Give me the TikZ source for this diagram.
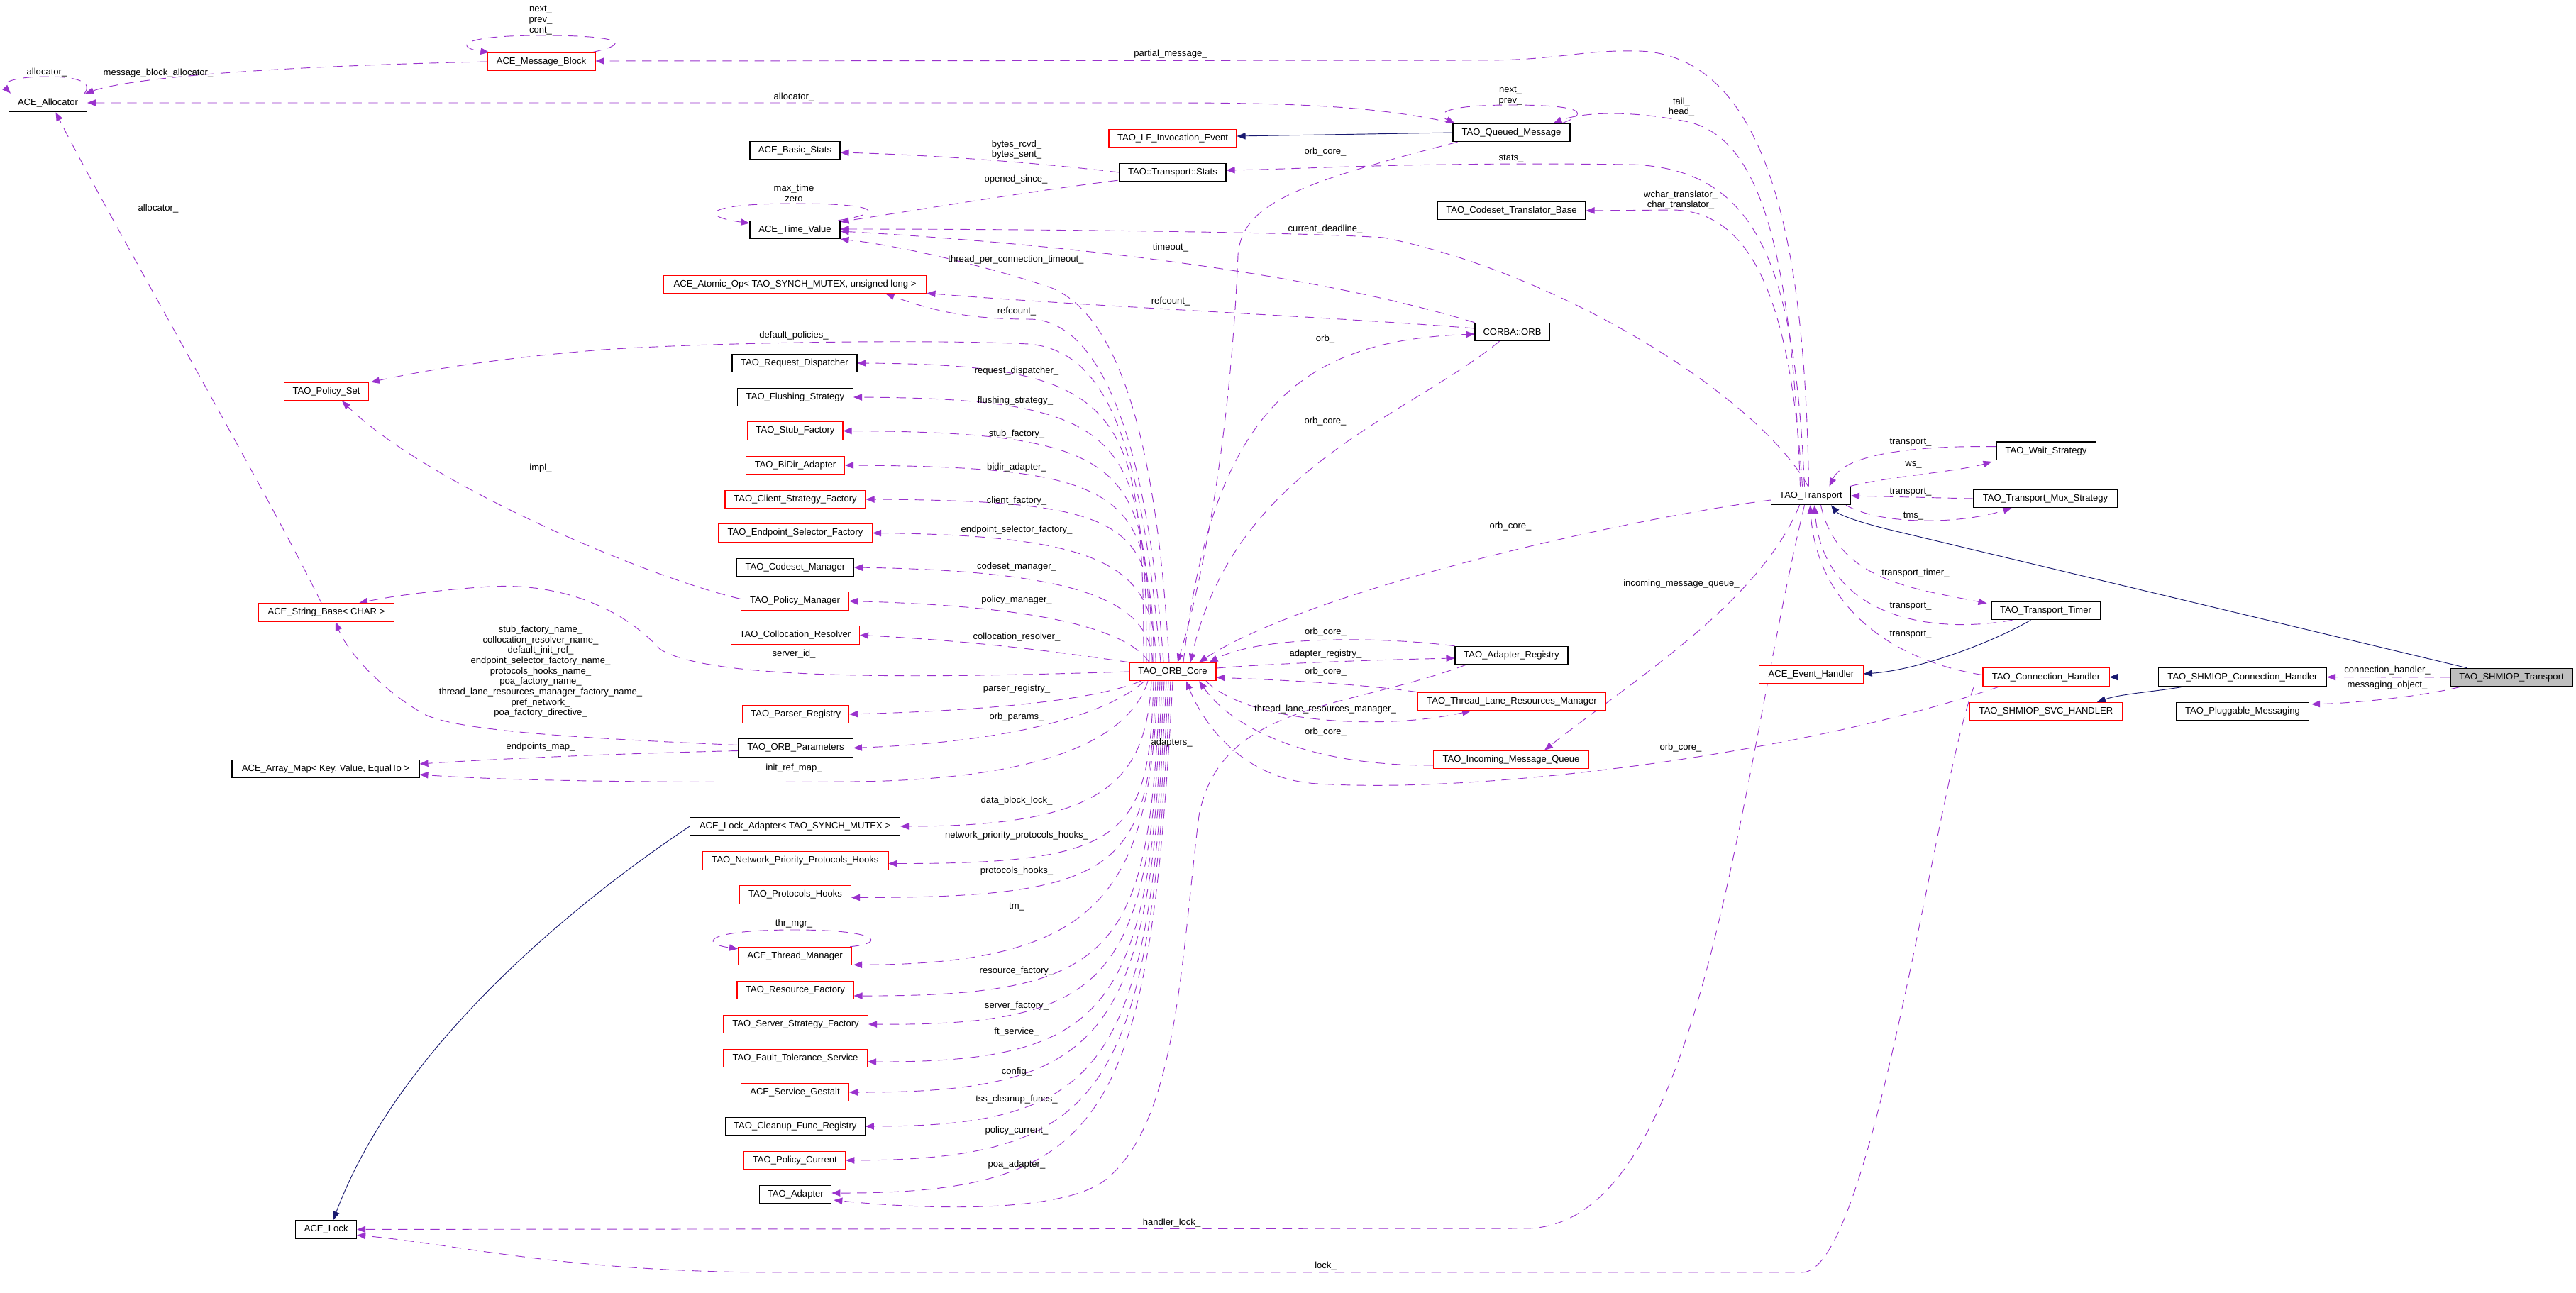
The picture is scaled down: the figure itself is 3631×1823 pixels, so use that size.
\documentclass[tikz,border=0pt]{standalone}
\usepackage{fontspec}
\setmainfont{Liberation Sans}
\usetikzlibrary{arrows.meta,calc}
\definecolor{usecol}{RGB}{154,50,205}
\definecolor{inhcol}{RGB}{25,25,112}
\definecolor{grayfill}{RGB}{191,191,191}
\pgfdeclarelayer{bg}
\pgfsetlayers{bg,main}
\begin{document}
\begin{tikzpicture}[x=0.75pt,y=-0.75pt,
  cls/.style={draw=black, line width=0.8pt, rectangle, inner sep=0pt, minimum height=19.1pt, fill=white, font=\fontsize{9.8}{11}\selectfont},
  rcls/.style={cls, draw=red},
  gcls/.style={cls, fill=grayfill},
  dep/.style={draw=usecol, line width=0.7pt, dash pattern=on 10pt off 7pt, -{Triangle[length=9pt,width=7pt]}},
  inh/.style={draw=inhcol, line width=0.7pt, -{Triangle[length=9pt,width=7pt]}},
  lbl/.style={font=\fontsize{9.8}{11}\selectfont, align=center, inner sep=0pt}]
\useasboundingbox (0,0) rectangle (3631,1823);

% ---------- classes ----------
\node[cls, minimum width=82.5pt] (alloc) at (67.5,145) {ACE\_Allocator};
\node[rcls, minimum width=114pt] (msgblk) at (763,87) {ACE\_Message\_Block};
\node[rcls, minimum width=89.25pt] (polset) at (460,552) {TAO\_Policy\_Set};
\node[rcls, minimum width=143.25pt] (strbase) at (460,863.5) {ACE\_String\_Base< CHAR >};
\node[cls, minimum width=198pt] (arrmap) at (459,1084) {ACE\_Array\_Map< Key, Value, EqualTo >};
\node[cls, minimum width=64.5pt] (acelock) at (459.7,1733.4) {ACE\_Lock};
\node[rcls, minimum width=135pt] (lfevent) at (1653,195) {TAO\_LF\_Invocation\_Event};
\node[cls, minimum width=95.25pt] (basicstats) at (1120.5,212) {ACE\_Basic\_Stats};
\node[cls, minimum width=112.5pt] (tstats) at (1653,243) {TAO::Transport::Stats};
\node[cls, minimum width=95.25pt] (timeval) at (1120.5,324) {ACE\_Time\_Value};
\node[rcls, minimum width=278.25pt] (atomic) at (1120.5,401) {ACE\_Atomic\_Op< TAO\_SYNCH\_MUTEX, unsigned long >};
\node[cls, minimum width=132pt] (reqdisp) at (1120,512) {TAO\_Request\_Dispatcher};
\node[cls, minimum width=122.25pt] (flush) at (1121,560) {TAO\_Flushing\_Strategy};
\node[rcls, minimum width=100.5pt] (stubf) at (1121,607.5) {TAO\_Stub\_Factory};
\node[rcls, minimum width=104.25pt] (bidir) at (1121,656) {TAO\_BiDir\_Adapter};
\node[rcls, minimum width=148.5pt] (clientf) at (1121,704) {TAO\_Client\_Strategy\_Factory};
\node[rcls, minimum width=162.75pt] (endpf) at (1121,751.5) {TAO\_Endpoint\_Selector\_Factory};
\node[cls, minimum width=123.75pt] (codesetm) at (1121,800) {TAO\_Codeset\_Manager};
\node[rcls, minimum width=114pt] (polmgr) at (1120.5,847.5) {TAO\_Policy\_Manager};
\node[rcls, minimum width=135.75pt] (colres) at (1121,895.5) {TAO\_Collocation\_Resolver};
\node[rcls, minimum width=91.5pt] (core) at (1653,947) {TAO\_ORB\_Core};
\node[rcls, minimum width=112.5pt] (parser) at (1121.7,1007) {TAO\_Parser\_Registry};
\node[cls, minimum width=121.5pt] (orbparams) at (1121.5,1054.5) {TAO\_ORB\_Parameters};
\node[cls, minimum width=222pt] (lockadapter) at (1120.6,1165) {ACE\_Lock\_Adapter< TAO\_SYNCH\_MUTEX >};
\node[rcls, minimum width=196.5pt] (npph) at (1121,1213.5) {TAO\_Network\_Priority\_Protocols\_Hooks};
\node[rcls, minimum width=117.75pt] (prothooks) at (1121,1261.4) {TAO\_Protocols\_Hooks};
\node[rcls, minimum width=120pt] (thrmgr) at (1120.5,1348) {ACE\_Thread\_Manager};
\node[rcls, minimum width=123pt] (resf) at (1121,1396) {TAO\_Resource\_Factory};
\node[rcls, minimum width=153pt] (serverf) at (1121.5,1444) {TAO\_Server\_Strategy\_Factory};
\node[rcls, minimum width=152.25pt] (ftserv) at (1121,1492) {TAO\_Fault\_Tolerance\_Service};
\node[rcls, minimum width=114pt] (gestalt) at (1120.5,1540) {ACE\_Service\_Gestalt};
\node[cls, minimum width=147.75pt] (cleanup) at (1120.8,1588) {TAO\_Cleanup\_Func\_Registry};
\node[rcls, minimum width=107.25pt] (polcur) at (1120.3,1636) {TAO\_Policy\_Current};
\node[cls, minimum width=75.75pt] (adapter) at (1121.3,1684) {TAO\_Adapter};
\node[cls, minimum width=123.75pt] (qmsg) at (2130.5,187) {TAO\_Queued\_Message};
\node[cls, minimum width=156.75pt] (cstb) at (2130.5,297) {TAO\_Codeset\_Translator\_Base};
\node[cls, minimum width=78.75pt] (corbaorb) at (2131.5,468) {CORBA::ORB};
\node[cls, minimum width=119.25pt] (adreg) at (2130.5,924) {TAO\_Adapter\_Registry};
\node[rcls, minimum width=198.75pt] (tlrm) at (2131,989) {TAO\_Thread\_Lane\_Resources\_Manager};
\node[rcls, minimum width=164.25pt] (imq) at (2130,1071) {TAO\_Incoming\_Message\_Queue};
\node[cls, minimum width=84pt] (transport) at (2552.5,699) {TAO\_Transport};
\node[rcls, minimum width=110pt] (evh) at (2553,951) {ACE\_Event\_Handler};
\node[cls, minimum width=105pt] (waits) at (2884,635.7) {TAO\_Wait\_Strategy};
\node[cls, minimum width=151.5pt] (mux) at (2883,703) {TAO\_Transport\_Mux\_Strategy};
\node[cls, minimum width=114.75pt] (ttimer) at (2883.5,861) {TAO\_Transport\_Timer};
\node[rcls, minimum width=133.5pt] (connh) at (2884,954.6) {TAO\_Connection\_Handler};
\node[rcls, minimum width=161.25pt] (svch) at (2884,1003) {TAO\_SHMIOP\_SVC\_HANDLER};
\node[cls, minimum width=177.75pt] (shconnh) at (3161,954.6) {TAO\_SHMIOP\_Connection\_Handler};
\node[cls, minimum width=140.25pt] (pmsg) at (3161,1003) {TAO\_Pluggable\_Messaging};
\node[gcls, minimum width=129pt] (shtrans) at (3540,955) {TAO\_SHMIOP\_Transport};

% ---------- labels ----------
\node[lbl] (l01) at (762,28.5) {next\_\\prev\_\\cont\_};
\node[lbl] (l02) at (66,102) {allocator\_};
\node[lbl] (l03) at (223,103) {message\_block\_allocator\_};
\node[lbl] (l04) at (1119,137) {allocator\_};
\node[lbl] (l05) at (1650,76) {partial\_message\_};
\node[lbl] (l06) at (223,294.5) {allocator\_};
\node[lbl] (l07) at (2129,135.2) {next\_\\prev\_};
\node[lbl] (l08) at (2370,151) {tail\_\\head\_};
\node[lbl] (l09) at (1868,213.6) {orb\_core\_};
\node[lbl] (l10) at (2130,223.7) {stats\_};
\node[lbl] (l11) at (1433,211) {bytes\_rcvd\_\\bytes\_sent\_};
\node[lbl] (l12) at (1432,253.6) {opened\_since\_};
\node[lbl] (l13) at (1119,272.4) {max\_time\\zero};
\node[lbl] (l14) at (2369,282) {wchar\_translator\_\\char\_translator\_};
\node[lbl] (l15) at (1868,323) {current\_deadline\_};
\node[lbl] (l16) at (1650,349) {timeout\_};
\node[lbl] (l17) at (1432,365.7) {thread\_per\_connection\_timeout\_};
\node[lbl] (l18) at (1650,425) {refcount\_};
\node[lbl] (l19) at (1433,439) {refcount\_};
\node[lbl] (l20) at (1868,478.5) {orb\_};
\node[lbl] (l21) at (1119,473) {default\_policies\_};
\node[lbl] (l22) at (1433,523) {request\_dispatcher\_};
\node[lbl] (l23) at (1431,565) {flushing\_strategy\_};
\node[lbl] (l24) at (1868,594) {orb\_core\_};
\node[lbl] (l25) at (1433,611.7) {stub\_factory\_};
\node[lbl] (l26) at (1433,659.5) {bidir\_adapter\_};
\node[lbl] (l27) at (762,660) {impl\_};
\node[lbl] (l28) at (1433,706) {client\_factory\_};
\node[lbl] (l29) at (1433,746.7) {endpoint\_selector\_factory\_};
\node[lbl] (l30) at (2129,742) {orb\_core\_};
\node[lbl] (l31) at (1433,798.8) {codeset\_manager\_};
\node[lbl] (l32) at (2370,823) {incoming\_message\_queue\_};
\node[lbl] (l33) at (1433,846.6) {policy\_manager\_};
\node[lbl] (l34) at (1868.5,890.6) {orb\_core\_};
\node[lbl] (l35) at (1433,897.6) {collocation\_resolver\_};
\node[lbl] (l36) at (1119,921.7) {server\_id\_};
\node[lbl] (l37) at (1868.5,922) {adapter\_registry\_};
\node[lbl] (l38) at (1868.5,946.6) {orb\_core\_};
\node[lbl] (l39) at (762,946.8) {stub\_factory\_name\_\\collocation\_resolver\_name\_\\default\_init\_ref\_\\endpoint\_selector\_factory\_name\_\\protocols\_hooks\_name\_\\poa\_factory\_name\_\\thread\_lane\_resources\_manager\_factory\_name\_\\pref\_network\_\\poa\_factory\_directive\_};
\node[lbl] (l40) at (1433,970.7) {parser\_registry\_};
\node[lbl] (l41) at (1868,1000) {thread\_lane\_resources\_manager\_};
\node[lbl] (l42) at (1433,1010.8) {orb\_params\_};
\node[lbl] (l43) at (1868.5,1032) {orb\_core\_};
\node[lbl] (l44) at (1651.6,1047) {adapters\_};
\node[lbl] (l45) at (762,1053) {endpoints\_map\_};
\node[lbl] (l46) at (2369,1053.6) {orb\_core\_};
\node[lbl] (l47) at (1119,1083.5) {init\_ref\_map\_};
\node[lbl] (l48) at (1433,1129) {data\_block\_lock\_};
\node[lbl] (l49) at (1433,1178.5) {network\_priority\_protocols\_hooks\_};
\node[lbl] (l50) at (1433,1227.8) {protocols\_hooks\_};
\node[lbl] (l51) at (1433,1278.7) {tm\_};
\node[lbl] (l52) at (1119,1302.5) {thr\_mgr\_};
\node[lbl] (l53) at (1433,1369.6) {resource\_factory\_};
\node[lbl] (l54) at (1433,1418.5) {server\_factory\_};
\node[lbl] (l55) at (1433,1455.5) {ft\_service\_};
\node[lbl] (l56) at (1433,1510.7) {config\_};
\node[lbl] (l57) at (1433,1550.4) {tss\_cleanup\_funcs\_};
\node[lbl] (l58) at (1433,1594.5) {policy\_current\_};
\node[lbl] (l59) at (1433,1641.8) {poa\_adapter\_};
\node[lbl] (l60) at (1651.6,1723.6) {handler\_lock\_};
\node[lbl] (l61) at (1868.5,1785) {lock\_};
\node[lbl] (l62) at (2693,624) {transport\_};
\node[lbl] (l63) at (2697,655.6) {ws\_};
\node[lbl] (l64) at (2693,694) {transport\_};
\node[lbl] (l65) at (2697,727.6) {tms\_};
\node[lbl] (l66) at (2700,808) {transport\_timer\_};
\node[lbl] (l67) at (2693,855) {transport\_};
\node[lbl] (l68) at (2693,895) {transport\_};
\node[lbl] (l69) at (3365,945.4) {connection\_handler\_};
\node[lbl] (l70) at (3365,965.7) {messaging\_object\_};

% ---------- connectors ----------
\begin{pgfonlayer}{bg}
% self loops
\draw[dep] ($(msgblk.north east)+(-5,0)$) .. controls (890,62) and (880,50) .. (763,50) .. controls (640,50) and (645,68) .. ($(msgblk.north west)+(3,0)$);
\draw[dep] ($(alloc.north east)+(-4,0)$) .. controls (130,118) and (115,108) .. (67,108) .. controls (15,108) and (2,118) .. ($(alloc.north west)+(3,0)$);
\draw[dep] ($(qmsg.north east)+(-12,0)$) .. controls (2240,160) and (2235,148) .. (2130,148) .. controls (2030,148) and (2025,162) .. ($(qmsg.north west)+(3,0)$);
\draw[dep] ($(timeval.north east)+(-3,0)$) .. controls (1250,300) and (1240,287) .. (1120,287) .. controls (990,287) and (985,305) .. ($(timeval.north west)+(0,4)$);
\draw[dep] ($(thrmgr.north east)+(-3,0)$) .. controls (1250,1330) and (1240,1311) .. (1120,1311) .. controls (995,1311) and (985,1330) .. ($(thrmgr.north west)+(0,3)$);

% allocator
\draw[dep] (msgblk.west) .. controls (450,92) and (200,105) .. ($(alloc.north east)+(-3,0)$);
\draw[dep] ($(qmsg.north west)+(2,0)$) .. controls (1950,152) and (1850,145) .. (1650,145) -- (alloc.east);
\draw[dep] ($(strbase.north)+(-7,0)$) .. controls (380,700) and (150,300) .. ($(alloc.south)+(11,0)$);

% transport top bundle
\draw[dep] ($(transport.north)+(-3,0)$) .. controls (2545,400) and (2510,80) .. (2311,72) .. controls (2230,70) and (2200,84) .. (2100,85) -- ($(msgblk.east)+(0,-1)$);
\draw[dep] ($(transport.north)+(-15,0)$) .. controls (2525,350) and (2480,195) .. (2380,172) .. controls (2300,155) and (2230,158) .. ($(qmsg.north east)+(-24,0)$);
\draw[dep] ($(transport.north)+(-9,0)$) .. controls (2530,380) and (2480,238) .. (2300,232) .. controls (2000,228) and (1850,238) .. ($(tstats.east)+(0,-3)$);
\draw[dep] ($(transport.north)+(-12,0)$) .. controls (2525,450) and (2480,300) .. (2360,296) -- (cstb.east);
\draw[dep] ($(transport.north)+(-4,0)$) .. controls (2480,560) and (2200,385) .. (1950,335) .. controls (1850,328) and (1500,323) .. ($(timeval.east)+(0,-1)$);

% stats / time value / atomic
\draw[dep] (corbaorb.north west) .. controls (1900,400) and (1600,350) .. ($(timeval.east)+(0,2)$);
\draw[dep] ($(tstats.south west)+(-2,-2)$) .. controls (1450,270) and (1300,295) .. ($(timeval.north east)+(0,2)$);
\draw[dep] (tstats.west) .. controls (1450,228) and (1300,218) .. ($(basicstats.east)+(0,3)$);
\draw[dep] ($(corbaorb.west)+(0,-5)$) .. controls (1900,448) and (1500,430) .. ($(atomic.south east)+(0,-1)$);
\draw[dep] ($(core.north)+(-13,0)$) .. controls (1620,650) and (1560,450) .. (1450,450) .. controls (1370,450) and (1320,440) .. ($(atomic.south)+(128,0)$);
\draw[dep] ($(core.north)+(-5,0)$) .. controls (1630,600) and (1570,440) .. (1480,405) .. controls (1380,372) and (1260,345) .. (timeval.south east);

% policy set / string base / array map
\draw[dep] ($(core.north)+(-17,0)$) .. controls (1610,650) and (1570,495) .. (1450,485) .. controls (1300,478) and (1000,483) .. (850,493) .. controls (700,505) and (600,522) .. ($(polset.north east)+(3,0)$);
\draw[dep] ($(polmgr.west)+(0,-3)$) .. controls (900,810) and (600,680) .. ($(polset.south)+(22,0)$);
\draw[dep] (core.west) .. controls (1300,956) and (1000,960) .. (930,915) .. controls (870,850) and (780,822) .. (690,827) .. controls (600,833) and (540,843) .. ($(strbase.north east)+(-50,0)$);
\draw[dep] ($(orbparams.west)+(0,-4)$) .. controls (800,1040) and (650,1030) .. (600,1008) .. controls (540,975) and (490,920) .. ($(strbase.south)+(13,0)$);
\draw[dep] ($(orbparams.west)+(0,4)$) .. controls (850,1063) and (700,1070) .. ($(arrmap.east)+(0,-7)$);
\draw[dep] ($(core.south)+(-35,0)$) .. controls (1590,1050) and (1450,1100) .. (1200,1102) .. controls (900,1104) and (700,1100) .. ($(arrmap.east)+(0,8)$);

% upper fan of ORB_Core
\draw[dep] ($(core.north)+(-41,0)$) .. controls (1612,575) and (1587,514) .. (reqdisp.east);
\draw[dep] ($(core.north)+(-37,0)$) .. controls (1616,616) and (1591,562) .. (flush.east);
\draw[dep] ($(core.north)+(-33,0)$) .. controls (1620,657) and (1595,609.5) .. (stubf.east);
\draw[dep] ($(core.north)+(-30,0)$) .. controls (1623,698) and (1598,658) .. (bidir.east);
\draw[dep] ($(core.north)+(-27,0)$) .. controls (1626,739) and (1601,706) .. (clientf.east);
\draw[dep] ($(core.north)+(-24,0)$) .. controls (1629,800) and (1560,755) .. (endpf.east);
\draw[dep] ($(core.north)+(-28,0)$) .. controls (1620,850) and (1530,805) .. (codesetm.east);
\draw[dep] ($(core.north)+(-33,0)$) .. controls (1590,890) and (1480,855) .. (polmgr.east);
\draw[dep] (core.north west) .. controls (1530,925) and (1400,905) .. (colres.east);

% lower fan of ORB_Core
\draw[dep] ($(core.south)+(-45,0)$) .. controls (1560,980) and (1450,1000) .. (parser.east);
\draw[dep] ($(core.south)+(-40,0)$) .. controls (1570,1000) and (1450,1045) .. (orbparams.east);
\draw[dep] ($(core.south)+(-30,0)$) .. controls (1615,1100) and (1560,1165) .. (lockadapter.east);
\draw[dep] ($(core.south)+(-27,0)$) .. controls (1620,1179) and (1590,1218) .. ($(npph.east)+(0,4)$);
\draw[dep] ($(core.south)+(-24,0)$) .. controls (1620,1219) and (1590,1266) .. ($(prothooks.east)+(0,4)$);
\draw[dep] ($(core.south)+(-21,0)$) .. controls (1620,1250) and (1560,1360) .. ($(thrmgr.south east)+(2,-1)$);
\draw[dep] ($(core.south)+(-18,0)$) .. controls (1620,1340) and (1580,1405) .. ($(resf.east)+(0,8)$);
\draw[dep] ($(core.south)+(-15,0)$) .. controls (1620,1373) and (1578,1447) .. (serverf.east);
\draw[dep] ($(core.south)+(-12,0)$) .. controls (1620,1416) and (1575,1498) .. ($(ftserv.east)+(0,5)$);
\draw[dep] ($(core.south)+(-9,0)$) .. controls (1620,1453) and (1572,1541) .. (gestalt.east);
\draw[dep] ($(core.south)+(-6,0)$) .. controls (1620,1493) and (1570,1588) .. (cleanup.east);
\draw[dep] ($(core.south)+(-3,0)$) .. controls (1620,1533) and (1568,1635) .. (polcur.east);
\draw[dep] (core.south) .. controls (1620,1574) and (1565,1683) .. ($(adapter.east)+(0,-2)$);

% into / out of ORB_Core on the right
\draw[dep] ($(qmsg.south west)+(7,0)$) .. controls (1820,260) and (1750,290) .. (1745,360) .. controls (1735,600) and (1700,800) .. ($(core.north)+(7,0)$);
\draw[dep] ($(corbaorb.south)+(-18,0)$) .. controls (1980,590) and (1740,660) .. ($(core.north)+(25,0)$);
\draw[dep] ($(core.north)+(15,0)$) .. controls (1710,560) and (1850,480) .. ($(corbaorb.west)+(0,3)$);
\draw[dep] ($(transport.west)+(0,6)$) .. controls (2300,730) and (1850,830) .. ($(core.north)+(37,0)$);
\draw[dep] (adreg.north west) .. controls (1950,898) and (1780,895) .. ($(core.north east)+(-10,0)$);
\draw[dep] ($(core.east)+(0,-5)$) .. controls (1800,935) and (1950,930) .. ($(adreg.west)+(0,4)$);
\draw[dep] (tlrm.north west) .. controls (1900,962) and (1780,958) .. ($(core.east)+(0,8)$);
\draw[dep] ($(core.south)+(47,0)$) .. controls (1760,1020) and (1950,1030) .. ($(tlrm.south)+(-58,0)$);
\draw[dep] ($(imq.west)+(0,8)$) .. controls (1850,1080) and (1740,1030) .. ($(core.south)+(37,0)$);
\draw[dep] ($(connh.south west)+(24,0)$) .. controls (2550,1060) and (2100,1120) .. (1858,1105) .. controls (1760,1100) and (1700,1030) .. ($(core.south)+(19,0)$);
\draw[dep] ($(transport.south)+(-16,0)$) .. controls (2480,850) and (2300,960) .. ($(imq.north)+(47,0)$);
\draw[dep] ($(adreg.south west)+(16,0)$) .. controls (1900,1000) and (1720,990) .. (1690,1150) .. controls (1665,1350) and (1660,1580) .. (1560,1662) .. controls (1500,1712) and (1300,1705) .. ($(adapter.east)+(3,8)$);

% locks
\draw[dep] ($(transport.south)+(-9,0)$) .. controls (2450,1100) and (2400,1732) .. (2150,1732) -- (acelock.east);
\draw[dep] ($(connh.south west)+(-12,0)$) .. controls (2730,1100) and (2640,1794) .. (2540,1794) -- (1100,1794) .. controls (800,1794) and (650,1755) .. ($(acelock.east)+(0,8)$);

% transport right side
\draw[dep] ($(waits.west)+(0,-6)$) .. controls (2700,628) and (2600,640) .. ($(transport.north)+(26,0)$);
\draw[dep] ($(transport.north east)+(-2,0)$) .. controls (2660,672) and (2760,665) .. ($(waits.south west)+(-6,2)$);
\draw[dep] (mux.west) -- (transport.east);
\draw[dep] ($(transport.south east)+(-7,0)$) .. controls (2650,740) and (2760,740) .. ($(mux.south west)+(54,0)$);
\draw[dep] ($(transport.south)+(14,0)$) .. controls (2590,820) and (2700,830) .. ($(ttimer.north west)+(-6,3)$);
\draw[dep] ($(ttimer.south west)+(30,0)$) .. controls (2720,895) and (2570,870) .. ($(transport.south)+(5,0)$);
\draw[dep] ($(connh.west)+(0,-3)$) .. controls (2660,930) and (2560,850) .. ($(transport.south)+(-1,0)$);
\draw[dep] (shtrans.west) -- (shconnh.east);
\draw[dep] ($(shtrans.south west)+(15,0)$) .. controls (3400,985) and (3300,992) .. ($(pmsg.north east)+(3,3)$);

% inheritance
\draw[inh] (qmsg.west) -- ($(lfevent.east)+(0,-3)$);
\draw[inh] ($(shtrans.north west)+(24,0)$) -- (2660,746) .. controls (2620,736) and (2592,726) .. ($(transport.south east)+(-28,0)$);
\draw[inh] (shconnh.west) -- (connh.east);
\draw[inh] ($(shconnh.south west)+(37,0)$) .. controls (3040,975) and (2990,978) .. ($(svch.north east)+(-36,0)$);
\draw[inh] ($(ttimer.south west)+(56,0)$) .. controls (2800,910) and (2700,945) .. ($(evh.east)+(0,-1)$);
\draw[inh] (lockadapter.west) .. controls (800,1280) and (560,1480) .. ($(acelock.north)+(10,0)$);
\end{pgfonlayer}
\end{tikzpicture}
\end{document}
